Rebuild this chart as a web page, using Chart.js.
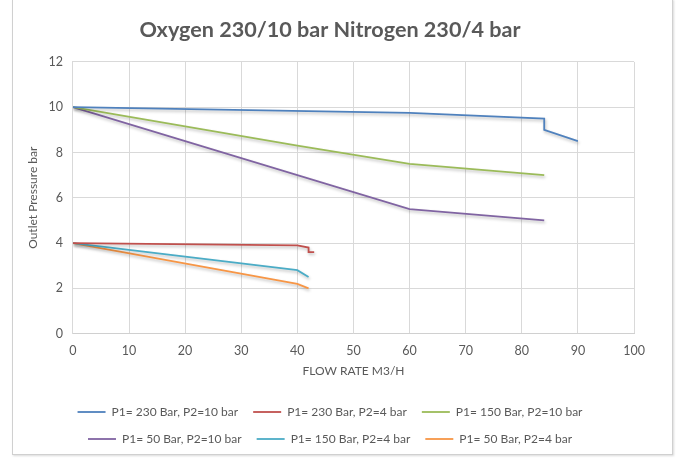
<!DOCTYPE html>
<html>
<head>
<meta charset="utf-8">
<script src="https://cdn.jsdelivr.net/npm/chart.js@4.4.1/dist/chart.umd.min.js"></script>
<style>
  body { margin: 0; background: #fff; }
  #marco { position: absolute; left: 12px; top: -1px; width: 659px; height: 454px; border: 1px solid #d0d0d0; box-shadow: 1px 1px 2px rgba(0,0,0,0.15); }
  #lienzo { position: absolute; left: 0; top: 0; width: 679px; height: 459px; }
</style>
</head>
<body>
<div id="marco"></div>
<div id="lienzo"><canvas id="grafico" width="679" height="459"></canvas></div>
<script>
// Datos (caudal en M3/H, presión de salida en bar)
const caudal230_10 = [0, 60, 84, 84, 90];
const presion230_10 = [10, 9.75, 9.5, 9.0, 8.5];

const caudal230_4 = [0, 40, 42, 42, 43];
const presion230_4 = [4, 3.9, 3.8, 3.6, 3.6];

const caudal150_10 = [0, 40, 60, 84];
const presion150_10 = [10, 8.3, 7.5, 7.0];

const caudal50_10 = [0, 60, 84];
const presion50_10 = [10, 5.5, 5.0];

const caudal150_4 = [0, 40, 42];
const presion150_4 = [4, 2.8, 2.5];

const caudal50_4 = [0, 40, 42];
const presion50_4 = [4, 2.2, 2.0];

const etiquetas = [
    'P1= 230 Bar, P2=10 bar',
    'P1= 230 Bar, P2=4 bar',
    'P1= 150 Bar, P2=10 bar',
    'P1= 50 Bar, P2=10 bar',
    'P1= 150 Bar, P2=4 bar',
    'P1= 50 Bar, P2=4 bar'
];
const colores = ['#4f81bd', '#c0504d', '#9bbb59', '#8064a2', '#4bacc6', '#f79646'];

// Une los arreglos x/y en puntos para Chart.js
function puntos(xs, ys) {
    return xs.map((x, i) => ({ x: x, y: ys[i] }));
}

const series = [
    puntos(caudal230_10, presion230_10),
    puntos(caudal230_4, presion230_4),
    puntos(caudal150_10, presion150_10),
    puntos(caudal50_10, presion50_10),
    puntos(caudal150_4, presion150_4),
    puntos(caudal50_4, presion50_4)
];

// Sombra suave como en Excel
const sombra = {
    id: 'sombra',
    beforeDatasetsDraw(chart) {
        const ctx = chart.ctx;
        ctx.save();
        ctx.shadowColor = 'rgba(0,0,0,0.25)';
        ctx.shadowBlur = 3;
        ctx.shadowOffsetX = 1;
        ctx.shadowOffsetY = 2;
    },
    afterDatasetsDraw(chart) {
        chart.ctx.restore();
    }
};

const gris = '#595959';
const fuente = 'Lato, "Open Sans", sans-serif';

new Chart(document.getElementById('grafico').getContext('2d'), {
    type: 'line',
    data: {
        datasets: series.map((datos, i) => ({
            label: etiquetas[i],
            data: datos,
            borderColor: colores[i],
            backgroundColor: colores[i],
            borderWidth: 1.8,
            pointRadius: 0,
            fill: false,
            tension: 0
        }))
    },
    options: {
        responsive: false,
        animation: false,
        layout: { padding: { left: 26, right: 45, top: 8, bottom: 4 } },
        plugins: {
            title: {
                display: true,
                text: 'Oxygen 230/10 bar Nitrogen 230/4 bar',
                color: gris,
                font: { family: fuente, size: 21.6, weight: 'bold' },
                padding: { top: 9, bottom: 19 }
            },
            legend: {
                position: 'bottom',
                labels: {
                    color: gris,
                    font: { family: fuente, size: 12 },
                    usePointStyle: true,
                    pointStyle: 'line',
                    pointStyleWidth: 28,
                    padding: 15
                }
            },
            tooltip: { enabled: false }
        },
        scales: {
            x: {
                type: 'linear',
                min: 0,
                max: 100,
                ticks: { stepSize: 10, color: gris, font: { family: fuente, size: 12.5 }, padding: 10 },
                grid: { color: '#d9d9d9', drawTicks: false },
                border: { color: '#d0d0d0' },
                title: { display: true, text: 'FLOW RATE M3/H', color: gris, font: { family: fuente, size: 12 }, padding: { top: -5, bottom: 13 } }
            },
            y: {
                min: 0,
                max: 12,
                ticks: { stepSize: 2, color: gris, font: { family: fuente, size: 12.5 }, padding: 10 },
                grid: { color: '#d9d9d9', drawTicks: false },
                border: { color: '#d9d9d9' },
                title: { display: true, text: 'Outlet Pressure bar', color: gris, font: { family: fuente, size: 12 }, padding: { top: 0, bottom: -2 } }
            }
        }
    },
    plugins: [sombra]
});
</script>
</body>
</html>
